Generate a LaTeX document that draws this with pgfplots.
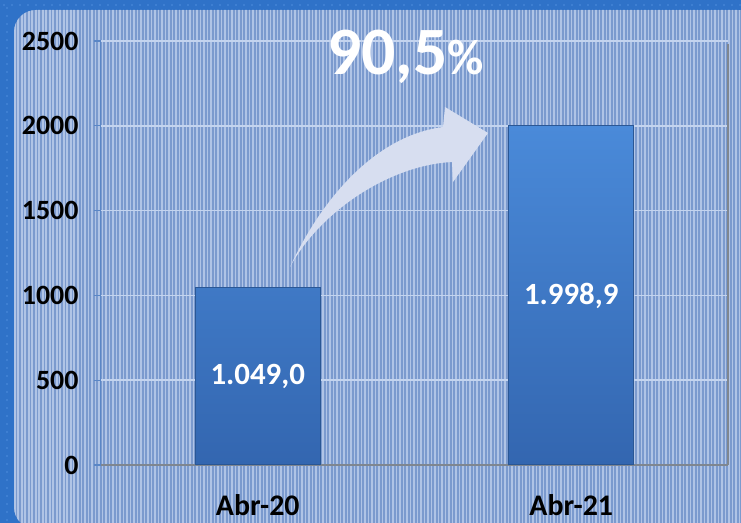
\documentclass[border=0pt]{standalone}
\usepackage{pgfplots}
\pgfplotsset{compat=1.18}
\usepackage{fontspec}
\setmainfont{Carlito}
\definecolor{frameblue}{HTML}{2F72C8}
\definecolor{framedot}{HTML}{4F8EDD}
\definecolor{paneldark}{HTML}{7B9ACE}
\definecolor{panellight}{HTML}{B0C4E6}
\definecolor{gridc}{HTML}{C4D4EF}
\definecolor{ylinec}{HTML}{5A86C6}
\definecolor{xlinec}{HTML}{7F8690}
\definecolor{bartop}{HTML}{4A8AD9}
\definecolor{barbot}{HTML}{3366B0}
\definecolor{baredge}{HTML}{2A5795}
\definecolor{arrowc}{HTML}{D7DEF0}
\begin{document}
\begin{tikzpicture}[x=1bp,y=1bp]
% outer frame
\fill[frameblue] (-101,-58) rectangle (640,465);
\foreach \i in {0,...,92} {\fill[framedot] ({-97+\i*8},460) circle (0.9);}
\foreach \j in {0,...,64} {\fill[framedot] (-94,{-55+\j*8}) circle (0.9);}
% panel
\begin{scope}
\clip[rounded corners=22bp] (-87,-64) rectangle (660,455);
\fill[paneldark] (-87,-64) rectangle (660,455);
\foreach \i in {0,...,213} {\fill[panellight] ({-87+\i*3.5},-64) rectangle ++(1.6,520);}
\end{scope}
\begin{axis}[
  at={(0,0)}, anchor=south west,
  scale only axis, width=627bp, height=424bp,
  xmin=-0.5, xmax=1.5, ymin=0, ymax=2500,
  axis x line=bottom, axis y line=left,
  axis line style={-},
  x axis line style={draw=xlinec, line width=1.6bp},
  y axis line style={draw=ylinec, line width=1bp},
  xtick={0,1}, xticklabels={Abr-20,Abr-21},
  major x tick style={draw=none},
  extra x ticks={-0.5,0.5,1.5}, extra x tick labels={},
  extra x tick style={major tick length=10bp, tick style={draw=xlinec, line width=1.6bp}, grid=none},
  ytick={0,500,1000,1500,2000,2500},
  tick align=outside,
  major tick length=7bp,
  ytick style={draw=ylinec, line width=1.2bp},
  ymajorgrids, grid style={draw=gridc, line width=1.5bp},
  /pgf/number format/assume math mode=true,
  /pgf/number format/1000 sep={},
  yticklabel style={font=\fontsize{28}{32}\selectfont\bfseries, text=black, xshift=-12bp},
  xticklabel style={font=\fontsize{30}{34}\selectfont\bfseries, text=black, yshift=-19bp},
  clip=false,
]
\addplot[ybar, bar width=0.4, bar shift=0pt, draw=baredge, line width=1bp,
  top color=bartop, bottom color=barbot]
  coordinates {(0,1049.0) (1,1998.9)};
\addplot[draw=none, mark=none, nodes near coords, point meta=explicit symbolic,
  every node near coord/.style={anchor=center, text=white, font=\fontsize{31}{34}\selectfont\bfseries}]
  coordinates {(0,524.5) [{1.049,0}] (1,999.45) [{1.998,9}]};
\draw[xlinec, line width=1.6bp] (axis cs:1.5,0) -- (axis cs:1.5,2480);
\end{axis}
% arrow
\fill[arrowc] (189,198) .. controls (225,275) and (280,330) .. (342,338)
  -- (344,358) -- (387,332) -- (352,283) -- (351,303)
  .. controls (290,300) and (220,255) .. cycle;
% percentage
\node[anchor=base west, inner sep=0, text=white] at (226,390) {\fontsize{68}{70}\selectfont\bfseries 90,5\fontsize{50}{52}\selectfont\%};
\pgfresetboundingbox
\useasboundingbox (-101,-58) rectangle (640,465);
\end{tikzpicture}
\end{document}
